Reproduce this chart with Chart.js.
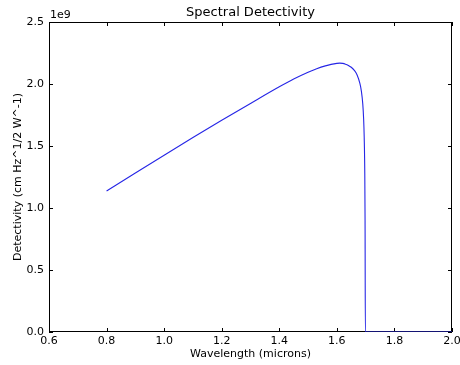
<!DOCTYPE html>
<html>
<head>
<meta charset="utf-8">
<script src="https://cdn.jsdelivr.net/npm/chart.js@4/dist/chart.umd.min.js"></script>
<style>
  html, body { margin: 0; padding: 0; background: #fff; }
  #wrap { width: 460px; height: 365px; }
</style>
</head>
<body>
<div id="wrap"><canvas id="c" width="460" height="365"></canvas></div>
<script>
const wavelengths = [0.80, 0.90, 1.00, 1.10, 1.20, 1.30, 1.40, 1.45, 1.50, 1.53, 1.56, 1.58, 1.60, 1.61, 1.62, 1.63, 1.64, 1.65, 1.66, 1.67, 1.68, 1.685, 1.69, 1.693, 1.695, 1.697, 1.698, 1.699, 2.00];
const detectivity = [1.137e9, 1.282e9, 1.426e9, 1.568e9, 1.707e9, 1.843e9, 1.977e9, 2.040e9, 2.095e9, 2.123e9, 2.146e9, 2.158e9, 2.166e9, 2.168e9, 2.166e9, 2.160e9, 2.150e9, 2.135e9, 2.112e9, 2.075e9, 2.005e9, 1.945e9, 1.840e9, 1.720e9, 1.570e9, 1.280e9, 0.900e9, 0, 0];
const xTicks = [0.6, 0.8, 1.0, 1.2, 1.4, 1.6, 1.8, 2.0];
const yTicks = [0, 0.5e9, 1.0e9, 1.5e9, 2.0e9, 2.5e9];

const FONT = 'DejaVu Sans';

const points = wavelengths.map((w, i) => ({ x: w, y: detectivity[i] }));

const framePlugin = {
  id: 'frame',
  beforeDatasetsDraw(chart) {
    const { ctx, chartArea: a, scales } = chart;
    ctx.save();
    ctx.strokeStyle = '#000';
    ctx.lineWidth = 1;
    ctx.strokeRect(Math.round(a.left) + 0.5, Math.round(a.top) + 0.5,
      Math.round(a.right - a.left) - 1, Math.round(a.bottom - a.top) - 1);
    const L = 4;
    ctx.beginPath();
    scales.x.ticks.forEach(t => {
      const px = Math.round(scales.x.getPixelForValue(t.value)) + 0.5;
      ctx.moveTo(px, a.bottom); ctx.lineTo(px, a.bottom - L);
      ctx.moveTo(px, a.top); ctx.lineTo(px, a.top + L);
    });
    scales.y.ticks.forEach(t => {
      const py = Math.round(scales.y.getPixelForValue(t.value)) + 0.5;
      ctx.moveTo(a.left, py); ctx.lineTo(a.left + L, py);
      ctx.moveTo(a.right, py); ctx.lineTo(a.right - L, py);
    });
    ctx.stroke();
    ctx.fillStyle = '#000';
    ctx.font = '11px "' + FONT + '"';
    ctx.textAlign = 'left';
    ctx.textBaseline = 'bottom';
    ctx.fillText('1e9', a.left + 1, a.top - 1);
    ctx.restore();
  }
};

new Chart(document.getElementById('c'), {
  type: 'scatter',
  data: {
    datasets: [{
      data: points,
      showLine: true,
      borderColor: '#2626e6',
      borderWidth: 1.1,
      pointRadius: 0,
      cubicInterpolationMode: 'monotone',
      fill: false
    }]
  },
  options: {
    responsive: false,
    animation: false,
    layout: { padding: { left: 0, right: 8, top: 0, bottom: 0 } },
    plugins: {
      legend: { display: false },
      tooltip: { enabled: false },
      title: {
        display: true,
        text: 'Spectral Detectivity',
        fullSize: false,
        color: '#000',
        font: { family: FONT, size: 13, weight: 'normal' },
        padding: { top: 5, bottom: 1.4 }
      }
    },
    scales: {
      x: {
        type: 'linear',
        min: 0.6, max: 2.0,
        afterBuildTicks(scale) { scale.ticks = xTicks.map(v => ({ value: v })); },
        afterFit(scale) { scale.height = 33; scale.paddingLeft = 0; scale.paddingRight = 0; },
        grid: { display: false, drawTicks: false },
        border: { display: false },
        ticks: {
          color: '#000',
          padding: 3,
          maxRotation: 0,
          autoSkip: false,
          font: { family: FONT, size: 11 },
          callback: v => Number(v).toFixed(1)
        },
        title: {
          display: true,
          text: 'Wavelength (microns)',
          color: '#000',
          font: { family: FONT, size: 11 },
          padding: { top: 0, bottom: 4.4 }
        }
      },
      y: {
        type: 'linear',
        min: 0, max: 2.5e9,
        afterBuildTicks(scale) { scale.ticks = yTicks.map(v => ({ value: v })); },
        afterFit(scale) { scale.width = 49; },
        grid: { display: false, drawTicks: false },
        border: { display: false },
        ticks: {
          color: '#000',
          padding: 5,
          autoSkip: false,
          font: { family: FONT, size: 11 },
          callback: v => (v / 1e9).toFixed(1)
        },
        title: {
          display: true,
          text: 'Detectivity (cm Hz^1/2 W^-1)',
          color: '#000',
          font: { family: FONT, size: 11 },
          padding: { top: 11.4, bottom: 0 }
        }
      }
    }
  },
  plugins: [framePlugin]
});
</script>
</body>
</html>
